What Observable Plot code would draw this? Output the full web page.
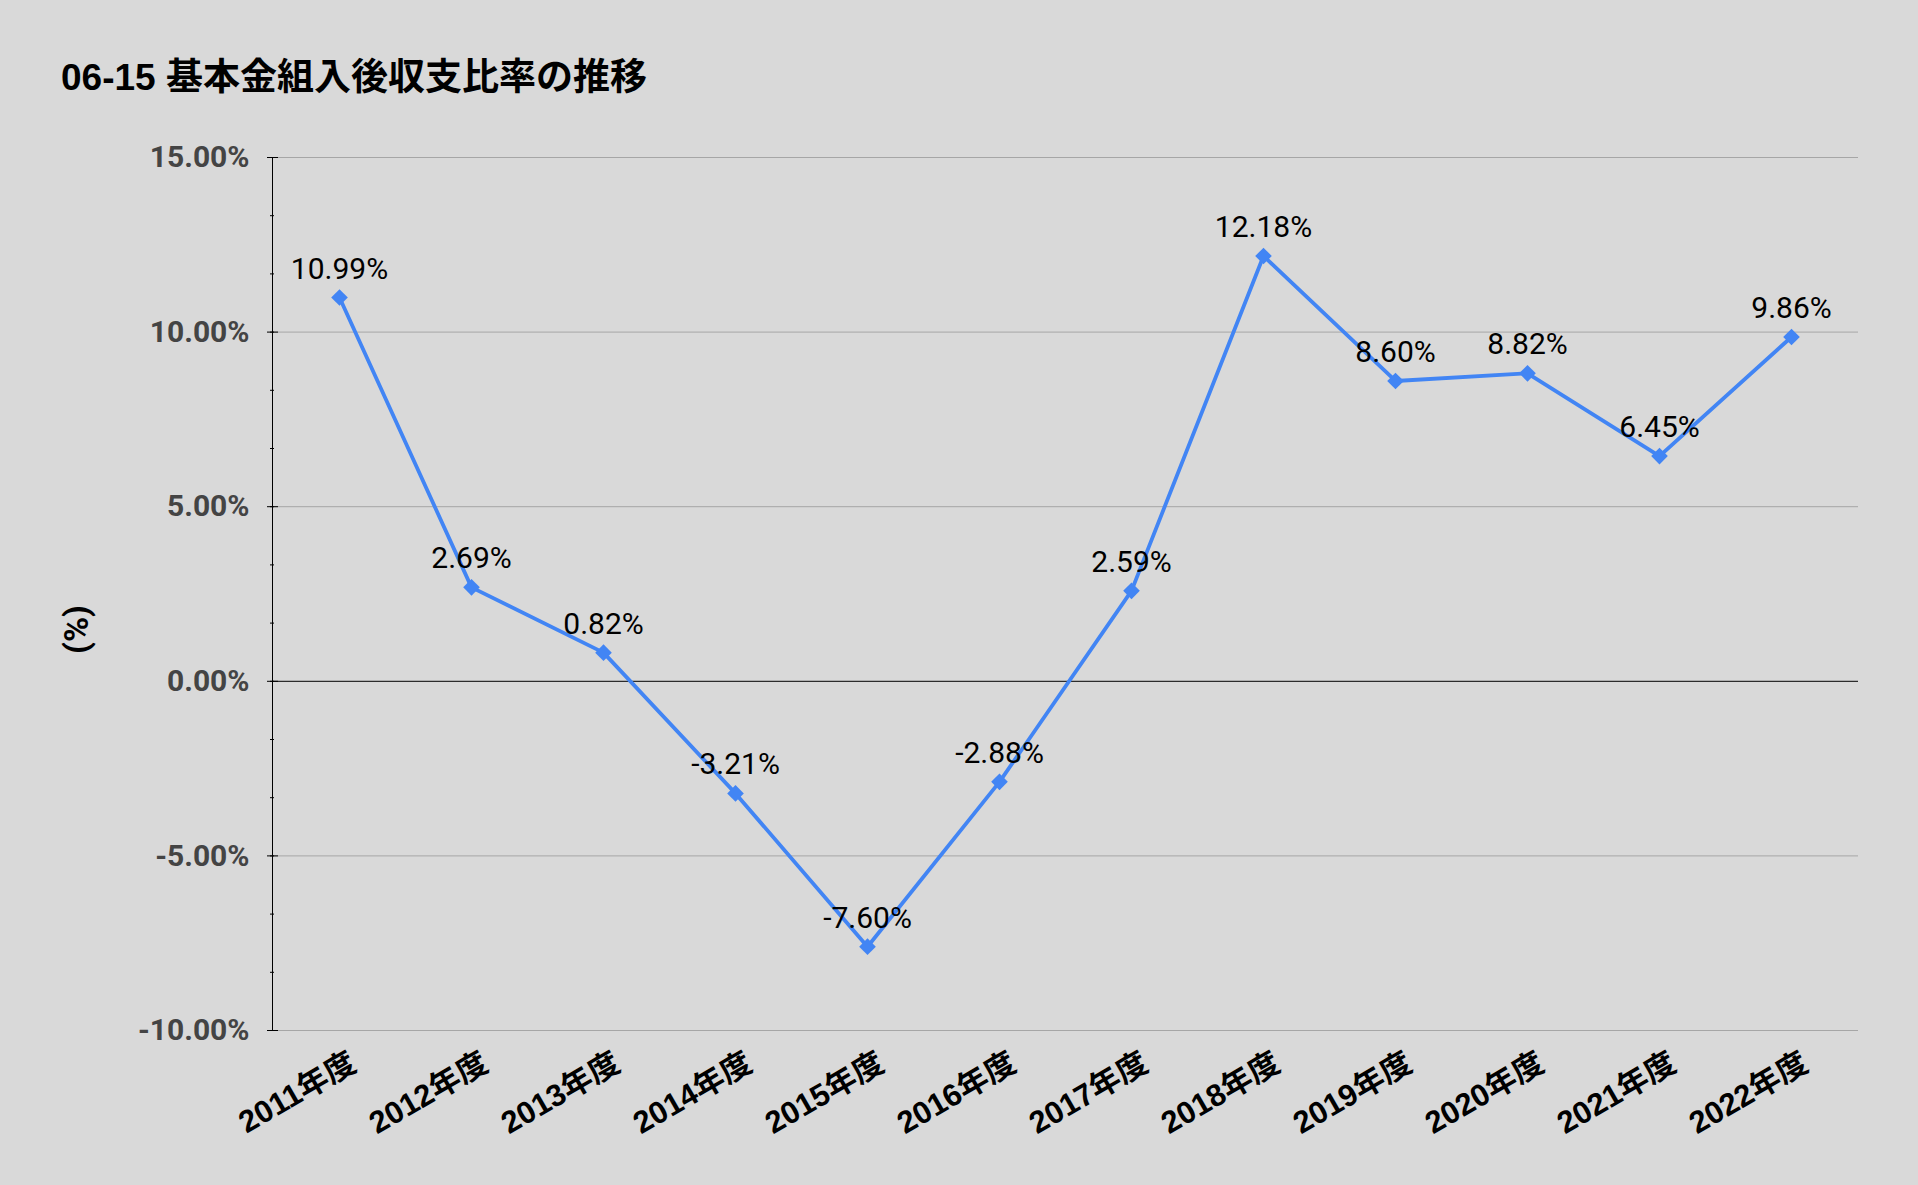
<!DOCTYPE html>
<html>
<head>
<meta charset="utf-8">
<script src="https://cdn.jsdelivr.net/npm/d3@7"></script>
<script src="https://cdn.jsdelivr.net/npm/@observablehq/plot@0.6"></script>
<style>
  html, body { margin: 0; padding: 0; background: #d9d9d9; }
  #title {
    height: 120px; box-sizing: border-box; padding: 58px 0 0 61px;
    font-family: "Liberation Sans", "Noto Sans CJK JP", sans-serif; font-weight: bold;
    font-size: 37px; line-height: 40px; color: #000; white-space: nowrap;
  }
  #chart svg { display: block; }
</style>
</head>
<body>
<div id="title"></div>
<div id="chart"></div>
<script>
const title = "06-15 基本金組入後収支比率の推移";
const yLabel = "(%)";
const years = ["2011年度", "2012年度", "2013年度", "2014年度", "2015年度", "2016年度",
               "2017年度", "2018年度", "2019年度", "2020年度", "2021年度", "2022年度"];
const values = [10.99, 2.69, 0.82, -3.21, -7.60, -2.88, 2.59, 12.18, 8.60, 8.82, 6.45, 9.86];
const yTicks = [-10, -5, 0, 5, 10, 15];
const gridTicks = [-10, -5, 5, 10, 15];
const minorTicks = d3.range(0, 16).map(i => -10 + i * 5 / 3);

document.getElementById("title").textContent = title;
const data = years.map((year, i) => ({year, value: values[i]}));
const fmt = d => d.toFixed(2) + "%";

const chart = Plot.plot({
  width: 1918,
  height: 1065,
  marginTop: 37,
  marginLeft: 272,
  marginRight: 60,
  marginBottom: 155,
  style: {background: "#d9d9d9", fontFamily: "Roboto, 'Noto Sans CJK JP', sans-serif", overflow: "visible"},
  x: {type: "point", domain: years, padding: 0.5},
  y: {domain: [-10, 15]},
  marks: [
    Plot.gridY(gridTicks, {stroke: "#a6a6a6", strokeOpacity: 1}),
    Plot.ruleY([0], {stroke: "#000"}),
    Plot.frame({anchor: "left", stroke: "#000"}),
    Plot.axisY(minorTicks, {tickSize: 4, dx: 2, text: null, label: null, stroke: "#000"}),
    Plot.axisY(yTicks, {tickSize: 11, dx: 6, text: null, label: null, stroke: "#000"}),
    Plot.axisY(yTicks, {tickSize: 0, tickPadding: 23, tickFormat: fmt, label: null,
      fontSize: 30, fontWeight: "bold", fill: "#444"}),
    Plot.axisX({tickRotate: -30, tickSize: 0, tickPadding: 20, label: null, dx: 14, dy: 10,
      fontFamily: "'Liberation Sans', 'Noto Sans CJK JP', sans-serif",
      fontSize: 31, fontWeight: "bold", fill: "#000"}),
    Plot.line(data, {x: "year", y: "value", stroke: "#4285F4", strokeWidth: 3.8}),
    Plot.dot(data, {x: "year", y: "value", symbol: "diamond2", fill: "#4285F4", r: 7.5}),
    Plot.text(data, {x: "year", y: "value", text: d => fmt(d.value), dy: -19, lineAnchor: "bottom",
      fontSize: 30, fill: "#000"}),
    Plot.text([yLabel], {frameAnchor: "left", rotate: -90, dx: -195, dy: 60,
      fontSize: 34, fontWeight: "bold", fill: "#000"})
  ]
});
document.getElementById("chart").appendChild(chart);
</script>
</body>
</html>
